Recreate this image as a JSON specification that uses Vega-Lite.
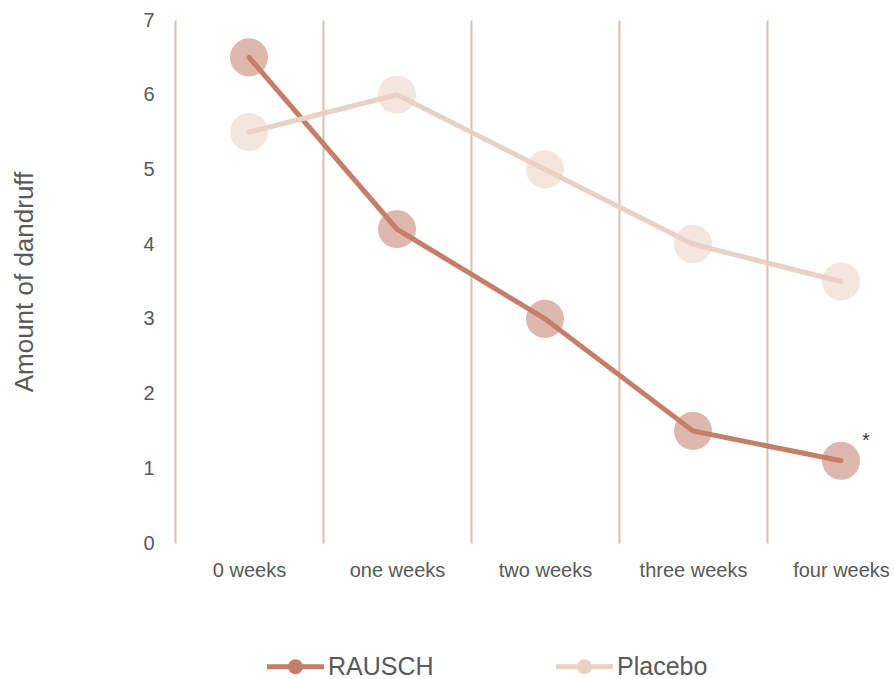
{
  "$schema": "https://vega.github.io/schema/vega-lite/v6.json",
  "autosize": "none",
  "padding": {"left": 175, "top": 20, "right": 0, "bottom": 136},
  "width": 740,
  "height": 523,
  "background": "white",
  "config": {
    "view": {"stroke": null},
    "font": "Liberation Sans"
  },
  "data": {
    "values": [
      {"time": "0 weeks", "group": "RAUSCH", "value": 6.5, "note": ""},
      {"time": "one weeks", "group": "RAUSCH", "value": 4.2, "note": ""},
      {"time": "two weeks", "group": "RAUSCH", "value": 3.0, "note": ""},
      {"time": "three weeks", "group": "RAUSCH", "value": 1.5, "note": ""},
      {"time": "four weeks", "group": "RAUSCH", "value": 1.1, "note": "*"},
      {"time": "0 weeks", "group": "Placebo", "value": 5.5, "note": ""},
      {"time": "one weeks", "group": "Placebo", "value": 6.0, "note": ""},
      {"time": "two weeks", "group": "Placebo", "value": 5.0, "note": ""},
      {"time": "three weeks", "group": "Placebo", "value": 4.0, "note": ""},
      {"time": "four weeks", "group": "Placebo", "value": 3.5, "note": ""}
    ]
  },
  "encoding": {
    "x": {
      "field": "time",
      "type": "ordinal",
      "sort": ["0 weeks", "one weeks", "two weeks", "three weeks", "four weeks"],
      "scale": {"type": "band", "paddingInner": 0, "paddingOuter": 0},
      "axis": {
        "title": null,
        "grid": true,
        "tickBand": "extent",
        "gridColor": "#D8BFB1",
        "gridWidth": 2,
        "gridOpacity": 1,
        "domain": false,
        "ticks": false,
        "labelAngle": 0,
        "labelFontSize": 20,
        "labelColor": "#595959",
        "labelPadding": 17
      }
    },
    "y": {
      "field": "value",
      "type": "quantitative",
      "scale": {"domain": [0, 7], "nice": false},
      "axis": {
        "title": "Amount of dandruff",
        "titleFontSize": 26,
        "titleFontWeight": "normal",
        "titleColor": "#595959",
        "titlePadding": 105,
        "grid": false,
        "domain": false,
        "ticks": false,
        "values": [0, 1, 2, 3, 4, 5, 6, 7],
        "labelFontSize": 20,
        "labelColor": "#595959",
        "labelPadding": 21
      }
    },
    "color": {
      "field": "group",
      "type": "nominal",
      "sort": ["RAUSCH", "Placebo"],
      "scale": {"domain": ["RAUSCH", "Placebo"], "range": ["#C47E6A", "#E9D1C4"]},
      "legend": {
        "title": null,
        "orient": "none",
        "legendX": 92,
        "legendY": 618,
        "direction": "horizontal",
        "symbolType": "M-1,-0.09 L1,-0.09 L1,0.09 L-1,0.09 Z M-0.26,0 A0.26,0.26 0 1,1 0.26,0 A0.26,0.26 0 1,1 -0.26,0 Z",
        "symbolSize": 3249,
        "symbolStrokeWidth": 0,
        "symbolOpacity": 1,
        "labelFontSize": 25,
        "labelColor": "#595959",
        "labelOffset": 4,
        "columnPadding": 122,
        "encode": {
          "symbols": {
            "update": {
              "shape": {"value": "M-1,-0.09 L1,-0.09 L1,0.09 L-1,0.09 Z M-0.26,0 A0.26,0.26 0 1,1 0.26,0 A0.26,0.26 0 1,1 -0.26,0 Z"},
              "size": {"value": 3249},
              "opacity": {"value": 1},
              "strokeWidth": {"value": 0}
            }
          }
        }
      }
    }
  },
  "layer": [
    {
      "mark": {"type": "point", "filled": true, "size": 1450, "opacity": 0.55, "strokeWidth": 0}
    },
    {
      "mark": {"type": "line", "strokeWidth": 5, "strokeCap": "round"}
    },
    {
      "transform": [{"filter": "datum.note != ''"}],
      "mark": {"type": "text", "dx": 25, "dy": -20, "fontSize": 20},
      "encoding": {
        "text": {"field": "note"},
        "color": {"value": "#404040"}
      }
    }
  ]
}
